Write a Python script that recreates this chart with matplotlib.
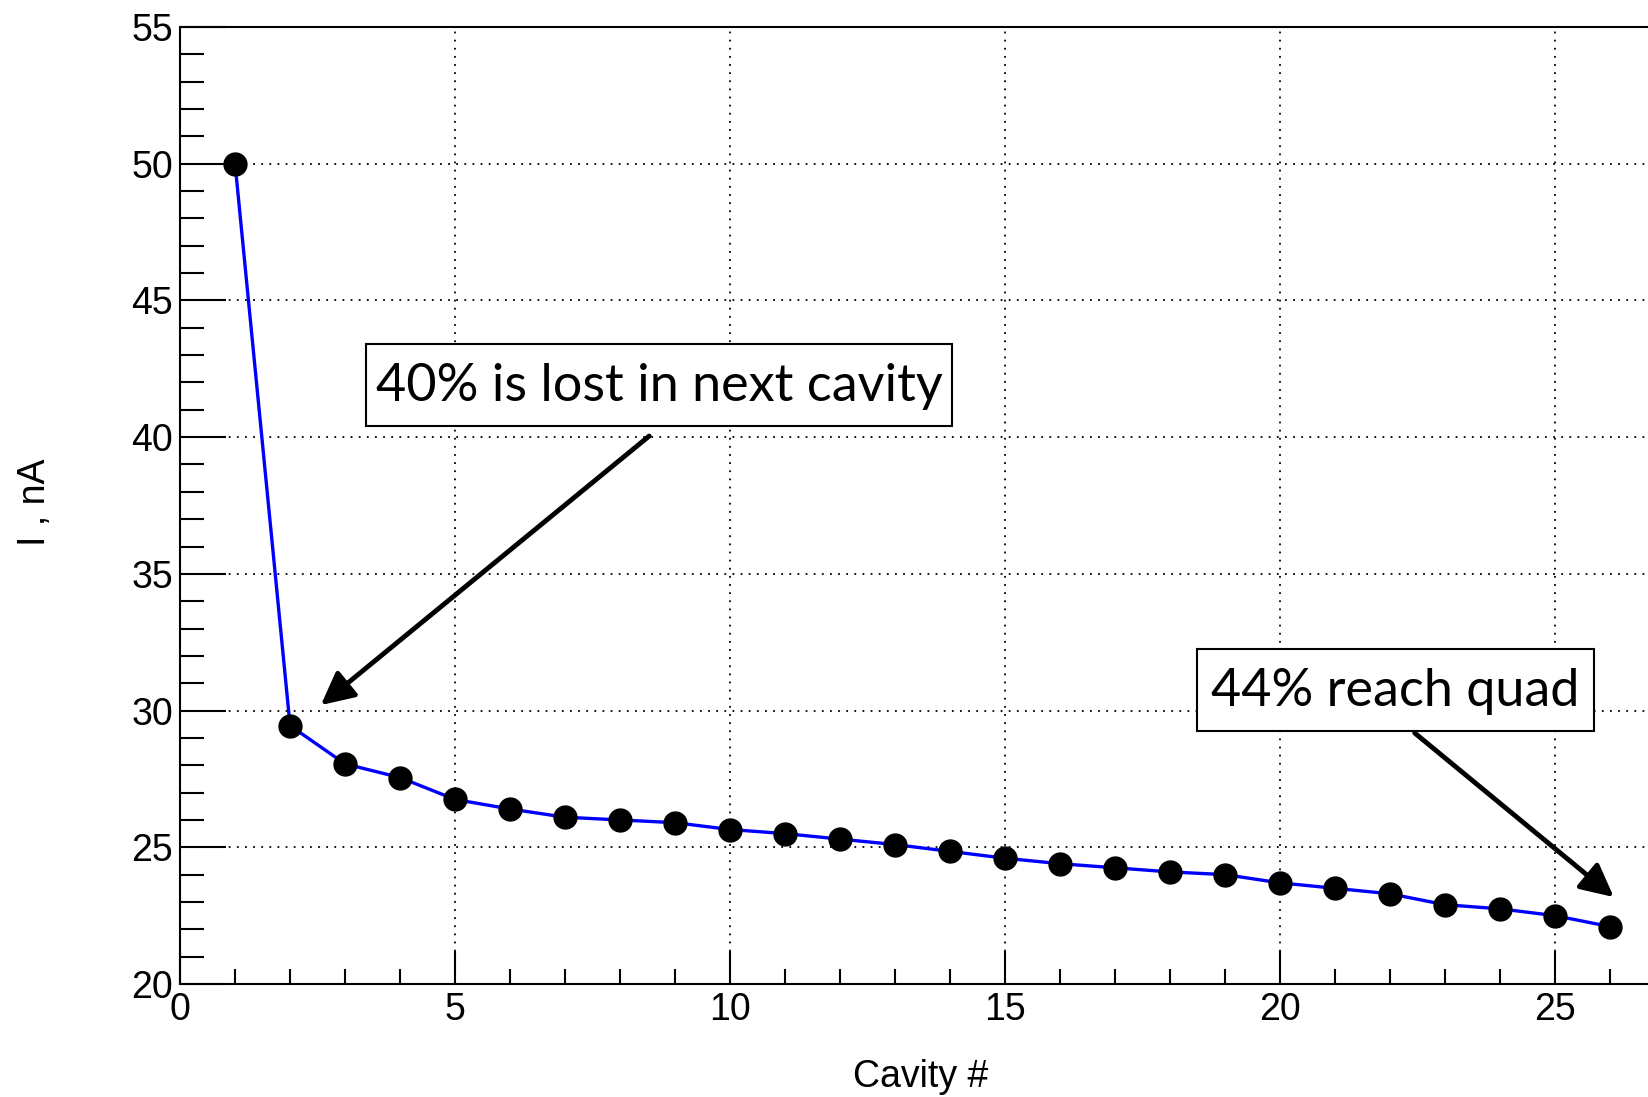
import matplotlib
matplotlib.use('Agg')
import matplotlib.pyplot as plt
from matplotlib.patches import Rectangle
from matplotlib.ticker import MultipleLocator

# beam current after each cavity
cavity = list(range(1, 27))
current = [50.0, 29.45, 28.05, 27.55, 26.75, 26.4, 26.1, 26.0, 25.9, 25.65,
           25.5, 25.3, 25.1, 24.85, 24.6, 24.4, 24.25, 24.1, 24.0, 23.7,
           23.5, 23.3, 22.9, 22.75, 22.5, 22.1]

note_lost = '40% is lost in next cavity'
note_quad = '44% reach quad'

plt.rcParams['font.family'] = ['Liberation Sans', 'DejaVu Sans']

fig = plt.figure(figsize=(16.49, 10.97), dpi=100)
ax = fig.add_axes([0.1092, 0.1030, 0.8908, 0.8724])

ax.plot(cavity, current, color='#0000ff', lw=2.4, zorder=3)
ax.plot(cavity, current, 'o', color='black', ms=16.5, zorder=4)

ax.set_xlim(0, 26.71)
ax.set_ylim(20, 55)
ax.xaxis.set_major_locator(MultipleLocator(5))
ax.xaxis.set_minor_locator(MultipleLocator(1))
ax.yaxis.set_major_locator(MultipleLocator(5))
ax.yaxis.set_minor_locator(MultipleLocator(1))

ax.tick_params(which='both', direction='in', width=1.5, labelsize=27)
ax.tick_params(axis='x', which='major', length=24, pad=6)
ax.tick_params(axis='x', which='minor', length=11)
ax.tick_params(axis='y', which='major', length=33, pad=5)
ax.tick_params(axis='y', which='minor', length=17)

ax.spines['right'].set_visible(False)
for s in ['left', 'bottom', 'top']:
    ax.spines[s].set_linewidth(1.5)

ax.grid(True, which='major', color='black', lw=1.3, ls=(0, (1, 3.5)))

ax.set_xlabel('Cavity #', fontsize=27)
ax.set_ylabel('I , nA', fontsize=27)
ax.xaxis.set_label_coords(0.5044, -0.078)
ax.yaxis.label.set_va('center')
ax.yaxis.set_label_coords(-0.099, 0.503)

# annotation boxes
ax.add_patch(Rectangle((3.38, 40.4), 10.66, 3.0, facecolor='white',
                       edgecolor='black', lw=1.5, zorder=5))
ax.text(8.71, 41.85, note_lost, ha='center', va='center', fontsize=37.5,
        family='Lato', zorder=6)
ax.add_patch(Rectangle((18.49, 29.25), 7.22, 3.0, facecolor='white',
                       edgecolor='black', lw=1.5, zorder=5))
ax.text(22.1, 30.7, note_quad, ha='center', va='center', fontsize=37.5,
        family='Lato', zorder=6)

arrow = dict(arrowstyle='-|>,head_length=1.0,head_width=0.5', color='black',
             lw=3.5, mutation_scale=20, shrinkA=0, shrinkB=0)
ax.annotate('', xy=(2.56, 30.2), xytext=(8.53, 40.04), arrowprops=arrow,
            zorder=6)
ax.annotate('', xy=(26.07, 23.18), xytext=(22.45, 29.18), arrowprops=arrow,
            zorder=6)

fig.savefig('out.png', dpi=100)
